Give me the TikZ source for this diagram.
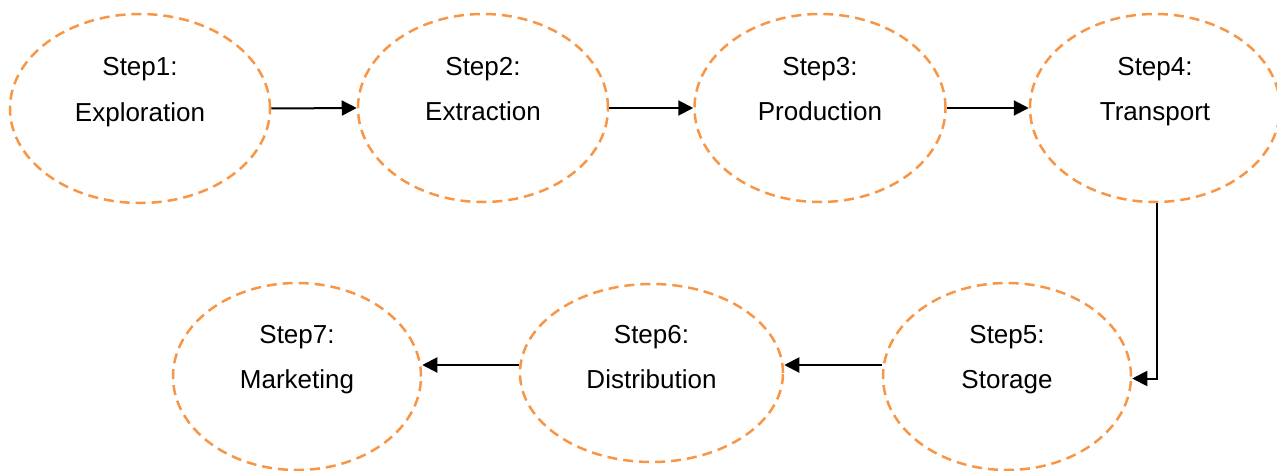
\documentclass[tikz,border=0pt]{standalone}
\usepackage{fontspec}
\setmainfont{Liberation Sans}
\usetikzlibrary{shapes.geometric,arrows.meta}
\definecolor{stepor}{HTML}{F79646}
\begin{document}
\begin{tikzpicture}[x=1pt,y=-1pt,
  stepell/.style={ellipse, draw=stepor, line width=2.5pt, dash pattern=on 10pt off 6pt, inner sep=0pt},
  steptxt/.style={anchor=base, inner sep=0pt, font=\fontsize{26}{30}\selectfont},
  arr/.style={draw=black, line width=2pt, -{Triangle[length=15pt,width=15pt]}}]
\useasboundingbox (0,0) rectangle (1277,471);
\node[stepell, minimum width=260pt, minimum height=189pt] (e1) at (140,108.5) {};
\node[stepell, minimum width=250pt, minimum height=188pt] (e2) at (483,108) {};
\node[stepell, minimum width=251pt, minimum height=188pt] (e3) at (820,108) {};
\node[stepell, minimum width=250pt, minimum height=188pt] (e4) at (1155,108) {};
\node[stepell, minimum width=248pt, minimum height=187pt] (e5) at (1007,376.5) {};
\node[stepell, minimum width=263pt, minimum height=178pt] (e6) at (651.5,373) {};
\node[stepell, minimum width=248pt, minimum height=187pt] (e7) at (297,376.5) {};
\node[steptxt] (a1) at ([yshift=33.5pt]e1.center) {Step1:};
\node[steptxt] (b1) at ([yshift=-12.5pt]e1.center) {Exploration};
\node[steptxt] (a2) at ([yshift=33pt]e2.center) {Step2:};
\node[steptxt] (b2) at ([yshift=-12.5pt]e2.center) {Extraction};
\node[steptxt] (a3) at ([yshift=33pt]e3.center) {Step3:};
\node[steptxt] (b3) at ([yshift=-12.5pt]e3.center) {Production};
\node[steptxt] (a4) at ([yshift=33pt]e4.center) {Step4:};
\node[steptxt] (b4) at ([yshift=-12.5pt]e4.center) {Transport};
\node[steptxt] (a5) at ([yshift=33.5pt]e5.center) {Step5:};
\node[steptxt] (b5) at ([yshift=-11.5pt]e5.center) {Storage};
\node[steptxt] (a6) at ([yshift=30pt]e6.center) {Step6:};
\node[steptxt] (b6) at ([yshift=-15pt]e6.center) {Distribution};
\node[steptxt] (a7) at ([yshift=33.5pt]e7.center) {Step7:};
\node[steptxt] (b7) at ([yshift=-11.5pt]e7.center) {Marketing};
\draw[arr] (e1.east) -- (e2.west);
\draw[arr] (e2.east) -- (e3.west);
\draw[arr] (e3.east) -- (e4.west);
\draw[arr] ([xshift=2pt]e4.south) |- ([yshift=-2pt]e5.east);
\draw[arr] ([yshift=11.5pt]e5.west) -- ([yshift=8pt]e6.east);
\draw[arr] ([yshift=8pt]e6.west) -- ([yshift=11.5pt]e7.east);
\end{tikzpicture}
\end{document}
